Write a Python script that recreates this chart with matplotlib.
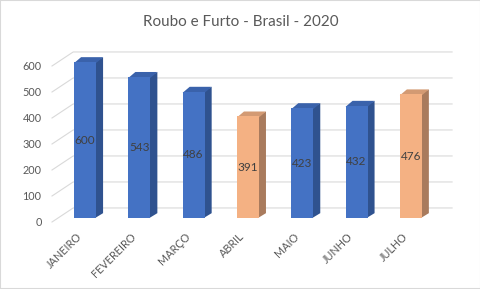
import matplotlib
matplotlib.use("Agg")
import matplotlib.pyplot as plt
import matplotlib.transforms as mtransforms
from matplotlib.patches import Polygon, Rectangle

months = ["JANEIRO", "FEVEREIRO", "MARÇO", "ABRIL", "MAIO", "JUNHO", "JULHO"]
values = [600, 543, 486, 391, 423, 432, 476]
highlight = [False, False, False, True, False, False, True]
yticks = [0, 100, 200, 300, 400, 500, 600]

plt.rcParams["font.family"] = ["Lato", "DejaVu Sans"]
grey = "#595959"

# colours: front, side, top
blue = ("#4472C4", "#2F528F", "#3A62AB")
orange = ("#F4B183", "#A97B5D", "#D39A73")

fig = plt.figure(figsize=(4.81, 2.89), dpi=100)
fig.patches.append(Rectangle((0, 0), 1, 1, transform=fig.transFigure,
                             fill=False, edgecolor="#d9d9d9", lw=1.5))

# front floor edge: y=0 at pixel 222, 0.26 px per unit
ax = fig.add_axes([52 / 481, (289 - 222) / 289, (470 - 52) / 481, 180 / 289])
x_left, x_right = -0.608, 7.09
ax.set_xlim(x_left, x_right)
ax.set_ylim(0, 180 / 0.26)

# depth of wall and bars (data units)
wall_dx, wall_dy = 0.39, 54
bar_dx, bar_dy = 0.13, 19
base = 15  # bars sit a bit behind the front edge
wall_right = 6.76
width = 0.405

# gridlines: floor diagonal + back wall
for v in yticks:
    ax.plot([x_left, x_left + wall_dx, wall_right],
            [v, v + wall_dy, v + wall_dy],
            color="#d9d9d9", lw=0.8, clip_on=False, zorder=1)

for i, (v, hl) in enumerate(zip(values, highlight)):
    front, side, top = orange if hl else blue
    x0, x1 = i - width / 2, i + width / 2
    y0, y1 = base, base + v
    # side and top start slightly inside the front face to avoid seams
    ax.add_patch(Polygon([(x1 - 0.02, y0), (x1 + bar_dx, y0 + bar_dy),
                          (x1 + bar_dx, y1 + bar_dy), (x1 - 0.02, y1)],
                         facecolor=side, edgecolor="none", zorder=2))
    ax.add_patch(Polygon([(x0, y1 - 4), (x1, y1 - 4), (x1 + bar_dx, y1 + bar_dy),
                          (x0 + bar_dx, y1 + bar_dy)],
                         facecolor=top, edgecolor="none", zorder=2))
    ax.bar(i, v, bottom=base, width=width, color=front, lw=0, zorder=3)
    ax.text(i, base + v / 2, str(v), ha="center", va="center", fontsize=8.5,
            color="#404040", zorder=4)

ax.set_yticks(yticks)
ax.set_xticks(range(len(months)))
ax.set_xticklabels(months, rotation=45, ha="right", va="top",
                   rotation_mode="anchor")
ax.tick_params(axis="both", length=0, labelsize=7.8, labelcolor=grey)
ax.tick_params(axis="y", pad=7.5)
ax.tick_params(axis="x", pad=6.5)
shift = mtransforms.ScaledTranslation(-9 / 100, 0, fig.dpi_scale_trans)
for lab in ax.get_xticklabels():
    lab.set_transform(lab.get_transform() + shift)
for s in ax.spines.values():
    s.set_visible(False)

fig.text(0.5, 1 - 22 / 289, "Roubo e Furto - Brasil - 2020", ha="center",
         va="center", fontsize=11, color=grey)

fig.savefig("out.png", dpi=100)
